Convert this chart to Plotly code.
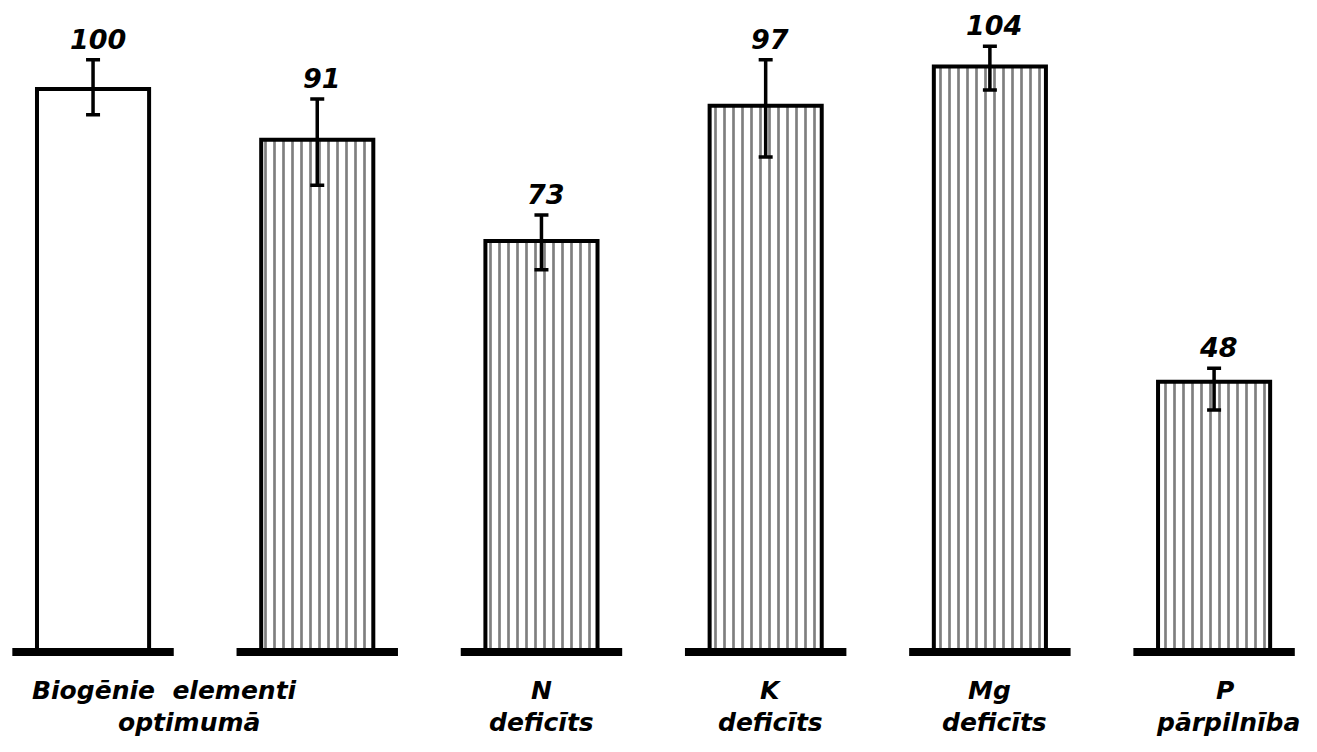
import plotly.graph_objects as go

categories = ["Biogēnie elementi optimumā", "", "N deficīts", "K deficīts", "Mg deficīts", "P pārpilnība"]
values = [100, 91, 73, 97, 104, 48]
value_labels = ["100", "91", "73", "97", "104", "48"]
err_plus = [5.2, 7.2, 4.6, 8.2, 3.6, 2.4]
err_minus = [4.6, 8.1, 5.1, 9.1, 4.2, 5.0]
label_line1 = ["Biogēnie  elementi", "", "N", "K", "Mg", "P"]
label_line2 = ["optimumā", "", "deficīts", "deficīts", "deficīts", "pārpilnība"]
label_x = [0.32, None, 2.0, 3.02, 4.0, 5.05]
label_x2 = [0.43, None, 2.0, 3.02, 4.02, 5.06]
patterns = ["", "|", "|", "|", "|", "|"]

xs = list(range(len(values)))
FONT = "DejaVu Sans"

fig = go.Figure()
fig.add_trace(go.Bar(
    x=xs, y=values, width=0.5,
    marker=dict(
        color="white",
        line=dict(color="black", width=4),
        pattern=dict(shape=patterns, fgcolor="black", bgcolor="white", size=9, solidity=0.3),
    ),
    error_y=dict(type="data", symmetric=False, array=err_plus, arrayminus=err_minus,
                 color="black", thickness=3.5, width=7),
    hoverinfo="skip",
))

shapes = []
for i in xs:
    shapes.append(dict(type="line", xref="x", yref="y", x0=i - 0.36, x1=i + 0.36, y0=0, y1=0,
                       line=dict(color="black", width=8), layer="above"))

annotations = []
for i, (v, lab) in enumerate(zip(values, value_labels)):
    annotations.append(dict(x=i + 0.02, y=v + err_plus[i], text=lab, showarrow=False,
                            yanchor="bottom", yshift=3,
                            font=dict(family=FONT, size=27, color="black", style="italic", weight="bold")))
for i in xs:
    if label_line1[i]:
        annotations.append(dict(x=label_x[i], y=-6.75, text=label_line1[i], showarrow=False,
                                yanchor="middle",
                                font=dict(family=FONT, size=25, color="black", style="italic", weight="bold")))
    if label_line2[i]:
        annotations.append(dict(x=label_x2[i], y=-12.5, text=label_line2[i], showarrow=False,
                                yanchor="middle",
                                font=dict(family=FONT, size=25, color="black", style="italic", weight="bold")))

fig.update_layout(
    width=1317, height=752, autosize=False,
    margin=dict(l=0, r=0, t=0, b=0),
    paper_bgcolor="white", plot_bgcolor="white",
    showlegend=False,
    xaxis=dict(range=[-0.415, 5.459], showgrid=False, zeroline=False, showticklabels=False,
               showline=False, ticks=""),
    yaxis=dict(range=[-17.76, 115.8], showgrid=False, zeroline=False, showticklabels=False,
               showline=False, ticks=""),
    shapes=shapes,
    annotations=annotations,
)

fig.write_html("out.html", config={"displayModeBar": False},
               post_script="document.body.style.margin='0';")
